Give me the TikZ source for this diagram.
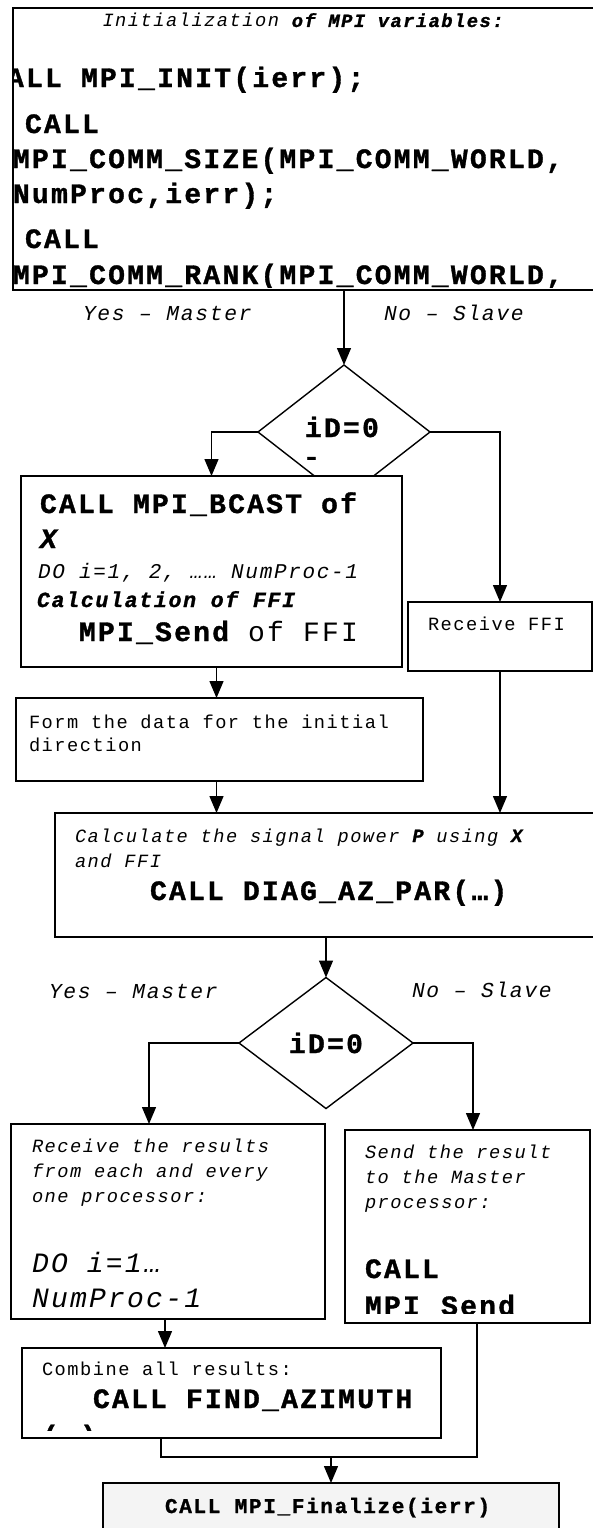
\documentclass[tikz,border=0pt]{standalone}
\usepackage{fontspec}
\usetikzlibrary{arrows.meta,shapes.geometric}
\newfontfamily\mono[LetterSpace=8, BoldFeatures={FakeBold=1.2}, BoldItalicFeatures={FakeBold=1.2}]{Liberation Mono}

\tikzset{
  box/.style={draw, line width=1.4pt, fill=white, inner sep=0pt, outer sep=0pt},
  dec/.style={diamond, draw, line width=1.4pt, fill=white, inner sep=0pt, outer sep=0pt},
  conn/.style={line width=1.4pt},
  arr/.style={conn, -{Triangle[length=17pt,width=14pt]}},
  txt/.style={anchor=base west, inner sep=0pt, outer sep=0pt},
  small/.style={txt, font=\mono\fontsize{18.7}{21}\selectfont},
  smallit/.style={txt, font=\mono\itshape\fontsize{18.7}{21}\selectfont},
  big/.style={txt, font=\mono\bfseries\fontsize{28}{30}\selectfont},
  branch/.style={txt, font=\mono\itshape\fontsize{21.3}{24}\selectfont},
}

\begin{document}
\begin{tikzpicture}[x=1pt, y=-1pt]
\useasboundingbox (0,0) rectangle (593,1528);

\node[box, minimum width=590pt, minimum height=282pt] (init) at (308,149) {};
\begin{scope}
  \clip (init.north west) rectangle ([yshift=3pt]init.south east);
  \node[smallit, anchor=base] (ini0) at (303,27) {Initialization \bfseries of MPI variables:};
  \node[big] (ini1) at (-12,87) {CALL MPI\_INIT(ierr);};
  \node[big] (ini2) at (25,133) {CALL};
  \node[big] (ini3) at (13,168) {MPI\_COMM\_SIZE(MPI\_COMM\_WORLD,};
  \node[big] (ini4) at (13,203) {NumProc,ierr);};
  \node[big] (ini5) at (25,248) {CALL};
  \node[big] (ini6) at (13,284) {MPI\_COMM\_RANK(MPI\_COMM\_WORLD,};
\end{scope}

\node[branch] (yes1) at (83,320) {Yes – Master};
\node[branch] (no1) at (384,320) {No – Slave};

\node[dec, minimum width=172pt, minimum height=134pt] (dec1) at (344,432) {};
\node[big] (dec1a) at (305,437) {iD=0};
\begin{scope}
  \clip (300,448) rectangle (330,459);
  \node[big] (dec1b) at (303,466) {-};
\end{scope}

\node[box, minimum width=381pt, minimum height=191pt] (bcast) at (211.5,571.5) {};
\node[big] (bc1) at (40,513) {CALL MPI\_BCAST of};
\node[big] (bc2) at (40,548) {\itshape X};
\node[txt, font=\mono\itshape\fontsize{21}{24}\selectfont] (bc3) at (38,578) {DO i=1, 2, …… NumProc-1};
\node[txt, font=\mono\bfseries\itshape\fontsize{21.5}{24}\selectfont] (bc4) at (37,607) {Calculation of FFI};
\node[big] (bc5) at (79,641) {MPI\_Send \mdseries of FFI};

\node[box, minimum width=184pt, minimum height=69pt] (recvffi) at (500,636.5) {};
\node[small] (rf1) at (428,630) {Receive FFI};

\node[box, minimum width=407pt, minimum height=83pt] (form) at (219.5,739.5) {};
\node[small] (fm1) at (29,728) {Form the data for the initial};
\node[small] (fm2) at (29,751) {direction};

\node[box, minimum width=555pt, minimum height=124pt] (calc) at (332.5,875) {};
\node[smallit] (cl1) at (75,842) {Calculate the signal power \textbf{P} using \textbf{X}};
\node[smallit] (cl2) at (75,867) {and FFI};
\node[big] (cl3) at (150,900) {CALL DIAG\_AZ\_PAR(…)};

\node[branch] (yes2) at (49,998) {Yes – Master};
\node[branch] (no2) at (412,997) {No – Slave};

\node[dec, minimum width=174pt, minimum height=131pt, font=\mono\bfseries\fontsize{28}{30}\selectfont] (dec2) at (326,1043) {iD=0};

\node[box, minimum width=314pt, minimum height=195pt] (recvres) at (168,1221.5) {};
\node[smallit] (rr1) at (32,1152) {Receive the results};
\node[smallit] (rr2) at (32,1177) {from each and every};
\node[smallit] (rr3) at (32,1202) {one processor:};
\node[big, font=\mono\itshape\fontsize{28}{30}\selectfont] (rr4) at (32,1272) {DO i=1…};
\node[big, font=\mono\itshape\fontsize{28}{30}\selectfont] (rr5) at (32,1307) {NumProc-1};

\node[box, minimum width=245pt, minimum height=193pt] (sendres) at (467.5,1226.5) {};
\begin{scope}
  \clip (sendres.north west) rectangle ([yshift=10pt]sendres.south east);
  \node[smallit] (sr1) at (365,1158) {Send the result};
  \node[smallit] (sr2) at (365,1183) {to the Master};
  \node[smallit] (sr3) at (365,1208) {processor:};
  \node[big] (sr4) at (365,1278) {CALL};
  \node[big] (sr5) at (365,1315) {MPI\_Send};
\end{scope}

\node[box, minimum width=419pt, minimum height=90pt] (combine) at (231.5,1393) {};
\begin{scope}
  \clip (combine.north west) rectangle ([yshift=8pt]combine.south east);
  \node[small] (cb1) at (42,1375) {Combine all results:};
  \node[big] (cb2) at (93,1408) {CALL FIND\_AZIMUTH};
  \node[big] (cb3) at (42,1445) {(…)};
\end{scope}

\node[box, fill=gray!9, minimum width=456pt, minimum height=62pt] (fin) at (331,1514) {};
\node[txt, font=\mono\bfseries\fontsize{21}{24}\selectfont] (fin1) at (165,1513) {CALL MPI\_Finalize(ierr)};

\coordinate (join) at ([yshift=26pt]fin.north);

\draw[arr] (init.south -| dec1.north) -- (dec1.north);
\draw[arr] (dec1.west) -| (bcast.north);
\draw[arr] (dec1.east) -| (recvffi.north);
\draw[arr] ([xshift=5pt]bcast.south) -- ([xshift=5pt]bcast.south |- form.north);
\draw[arr] ([xshift=-3pt]form.south) -- ([xshift=-3pt]form.south |- calc.north);
\draw[arr] (recvffi.south) -- (recvffi.south |- calc.north);
\draw[arr] (calc.south -| dec2.north) -- (dec2.north);
\draw[arr] (dec2.west) -| ([xshift=-19pt]recvres.north);
\draw[arr] (dec2.east) -| ([xshift=5.5pt]sendres.north);
\draw[arr] ([xshift=-3pt]recvres.south) -- ([xshift=-3pt]recvres.south |- combine.north);
\draw[conn] ([xshift=-70.5pt]combine.south) |- (join) -| ([xshift=9.5pt]sendres.south);
\draw[arr] (join) -- (fin.north);
\end{tikzpicture}
\end{document}
